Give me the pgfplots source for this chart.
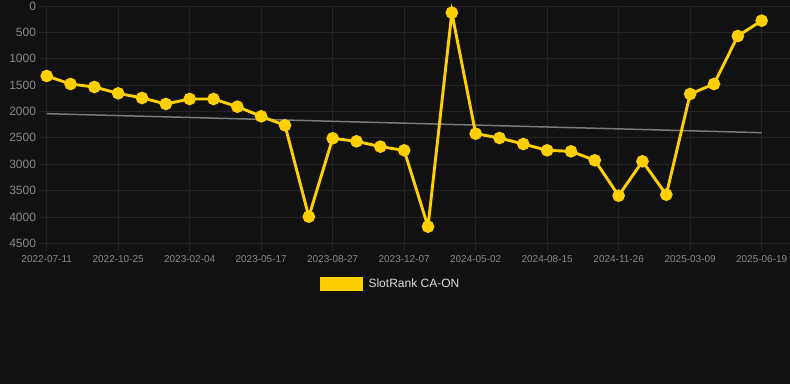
\documentclass[border=0pt]{standalone}
\usepackage{pgfplots}
\pgfplotsset{compat=1.18}
\usepackage{fontspec}
\setmainfont{Liberation Sans}
\definecolor{bg}{HTML}{111111}
\definecolor{gridc}{HTML}{232323}
\definecolor{tickc}{HTML}{8A8A8A}
\definecolor{yel}{HTML}{FFD000}
\definecolor{trend}{HTML}{7A7A7A}
\definecolor{legtext}{HTML}{DDDDDD}
\begin{document}
\begin{tikzpicture}[x=1pt,y=1pt]
\fill[bg] (0,0) rectangle (790,384);
\begin{axis}[
  at={(46.7pt,140.7pt)}, anchor=south west,
  scale only axis, width=743.3pt, height=237.3pt,
  xmin=0, xmax=31.19, ymin=0, ymax=4500,
  y dir=reverse,
  axis line style={draw=none},
  xtick={0,3,...,30},
  xticklabels={2022-07-11,2022-10-25,2023-02-04,2023-05-17,2023-08-27,2023-12-07,2024-05-02,2024-08-15,2024-11-26,2025-03-09,2025-06-19},
  ytick={0,500,...,4500},
  xtick pos=bottom, ytick pos=left,
  grid=major, grid style={gridc, line width=0.8pt},
  tick align=outside, major tick length=8pt,
  tick style={gridc, line width=0.8pt},
  /pgf/number format/1000 sep={},
  /pgf/number format/assume math mode=true,
  xticklabel style={font=\fontsize{10}{12}\selectfont, text=tickc, anchor=north, inner sep=0pt, yshift=-4pt},
  yticklabel style={font=\fontsize{12}{14}\selectfont, text=tickc, anchor=east, inner sep=0pt, xshift=-2.5pt},
  legend style={at={(0.4625,-0.1715)}, anchor=center, fill=none, draw=none, text=legtext, font=\fontsize{12}{14}\selectfont, inner sep=0pt},
  legend image code/.code={\fill[yel] (0pt,-5.5pt) rectangle (40pt,5.5pt);},
  legend cell align=left,
  clip=false,
]
\addplot[trend, line width=1.5pt, forget plot] coordinates {(0,2042) (30,2402)};
\addplot[yel, line width=2.9pt, mark=*, mark size=4.8pt, mark options={solid, fill=yel, draw=none}] coordinates {
(0,1327) (1,1479) (2,1536) (3,1656) (4,1744) (5,1858) (6,1763) (7,1763) (8,1909) (9,2092)
(10,2263) (11,3995) (12,2509) (13,2566) (14,2667) (15,2737) (16,4184) (17,126) (18,2421) (19,2503)
(20,2617) (21,2737) (22,2756) (23,2926) (24,3597) (25,2945) (26,3578) (27,1669) (28,1479) (29,569) (30,278)
};
\addlegendentry{\hspace{4pt}SlotRank CA-ON}
\end{axis}
\pgfresetboundingbox
\path[use as bounding box] (0,0) rectangle (790,384);
\end{tikzpicture}
\end{document}
